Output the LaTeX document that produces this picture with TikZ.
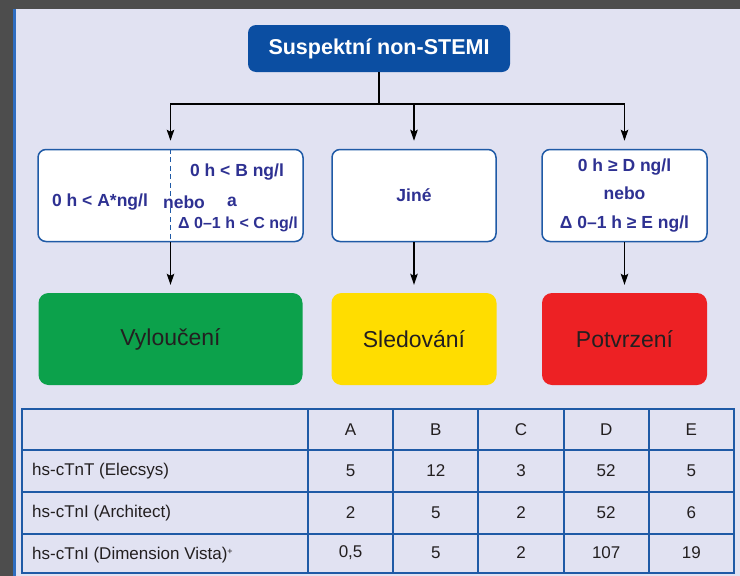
\documentclass[tikz,border=0pt]{standalone}
\usepackage{fontspec}
\setmainfont{Liberation Sans}
\usetikzlibrary{arrows.meta}
\definecolor{bgdark}{HTML}{4D4D4D}
\definecolor{panel}{HTML}{E1E2F2}
\definecolor{edgeblue}{HTML}{2F6DC0}
\definecolor{navy}{HTML}{0B4EA2}
\definecolor{boxline}{HTML}{1F5AA6}
\definecolor{boxtext}{HTML}{2E3192}
\definecolor{okgreen}{HTML}{0CA14B}
\definecolor{warnyellow}{HTML}{FFDD00}
\definecolor{alertred}{HTML}{ED2124}
\definecolor{ink}{HTML}{231F20}
\tikzset{
  topbox/.style={fill=navy, rounded corners=8pt, minimum width=262pt, minimum height=47pt, inner sep=0pt,
    text=white, font=\fontsize{21.5}{25}\selectfont\bfseries},
  condbox/.style={draw=boxline, line width=1.5pt, fill=white, rounded corners=8pt, minimum height=92pt, inner sep=0pt,
    text=boxtext, font=\fontsize{17.5}{28.5}\selectfont\bfseries, align=center},
  btxt/.style={inner sep=0pt, text=boxtext, font=\fontsize{17.5}{20}\selectfont\bfseries},
  resbox/.style={rounded corners=10pt, minimum height=92pt, inner sep=0pt, text=ink,
    font=\fontsize{23}{27}\selectfont},
  conn/.style={line width=1.4pt, black},
  arr/.style={conn, -{Stealth[length=11pt,width=7.5pt,inset=2pt]}, shorten >=8pt},
  tline/.style={draw=boxline, line width=1.8pt},
  ttxt/.style={inner sep=0pt, text=ink, font=\fontsize{17}{20}\selectfont}
}
\begin{document}
\begin{tikzpicture}[x=1pt,y=-1pt]
\useasboundingbox (0,0) rectangle (740,576);
\fill[bgdark] (0,0) rectangle (740,576);
\fill[panel] (13,9) rectangle (740,576);
\fill[edgeblue] (13,9) rectangle (15.5,576);

% top node
\node[topbox] (top) at (379,48.5) {Suspektní non-STEMI};

% condition boxes
\node[condbox, minimum width=265pt] (b1) at (170.5,195.5) {};
\node[condbox, minimum width=164pt] (b2) at (414,195.5) {Jiné};
\node[condbox, minimum width=165pt] (b3) at (624.5,195.5) {0 h ≥ D ng/l\\nebo\\Δ 0–1 h ≥ E ng/l};

\draw[boxline, line width=1.4pt, dash pattern=on 5pt off 3.5pt] (b1.north) -- (b1.south);
\node[btxt] (tA) at (100,202) {0 h < A*ng/l};
\node[btxt, fill=white, inner xsep=1pt] (tnebo) at (184,202) {nebo};
\node[btxt] (ta) at (232,202) {a};
\node[btxt] (tB) at (237,172) {0 h < B ng/l};
\node[btxt, font=\fontsize{16}{19}\selectfont\bfseries] (tC) at (238,224) {Δ 0–1 h < C ng/l};

% result boxes
\node[resbox, fill=okgreen, minimum width=264pt] (g) at (170.5,339) {Vyloučení};
\node[resbox, fill=warnyellow, minimum width=165pt] (y) at (414,339) {Sledování};
\node[resbox, fill=alertred, minimum width=165pt] (r) at (624.5,339) {Potvrzení};

% connectors
\coordinate (hub) at (379,104);
\draw[conn] (top.south) -- (hub);
\draw[arr] (hub) -| (b1.north);
\draw[arr] (hub) -| (b2.north);
\draw[arr] (hub) -| (b3.north);
\draw[arr] (b1.south) -- (g.north);
\draw[arr] (b2.south) -- (y.north);
\draw[arr] (b3.south) -- (r.north);

% table
\draw[tline] (22,409) rectangle (734,573);
\foreach \yy in {450,492,534} \draw[tline] (22,\yy) -- (734,\yy);
\foreach \xx in {308,393,478,564,649} \draw[tline] (\xx,409) -- (\xx,573);

\foreach \lab [count=\i] in {A,B,C,D,E}
  \node[ttxt] (h\lab) at ({308+85.2*(\i-0.5)},430) {\lab};

\node[ttxt, anchor=west] (r1) at (32,471) {hs-cTnT (Elecsys)};
\node[ttxt, anchor=west] (r2) at (32,513) {hs-cTnI (Architect)};
\node[ttxt, anchor=base west] (r3) at (32,559) {hs-cTnI (Dimension Vista)\raisebox{5pt}{\fontsize{9}{9}\selectfont +}};

\foreach \v [count=\i] in {5,12,3,52,5}
  \node[ttxt] (c1\i) at ({308+85.2*(\i-0.5)},471) {\v};
\foreach \v [count=\i] in {2,5,2,52,6}
  \node[ttxt] (c2\i) at ({308+85.2*(\i-0.5)},513) {\v};
\foreach \v [count=\i] in {{0,5},5,2,107,19}
  \node[ttxt] (c3\i) at ({308+85.2*(\i-0.5)},553) {\v};
\end{tikzpicture}
\end{document}
